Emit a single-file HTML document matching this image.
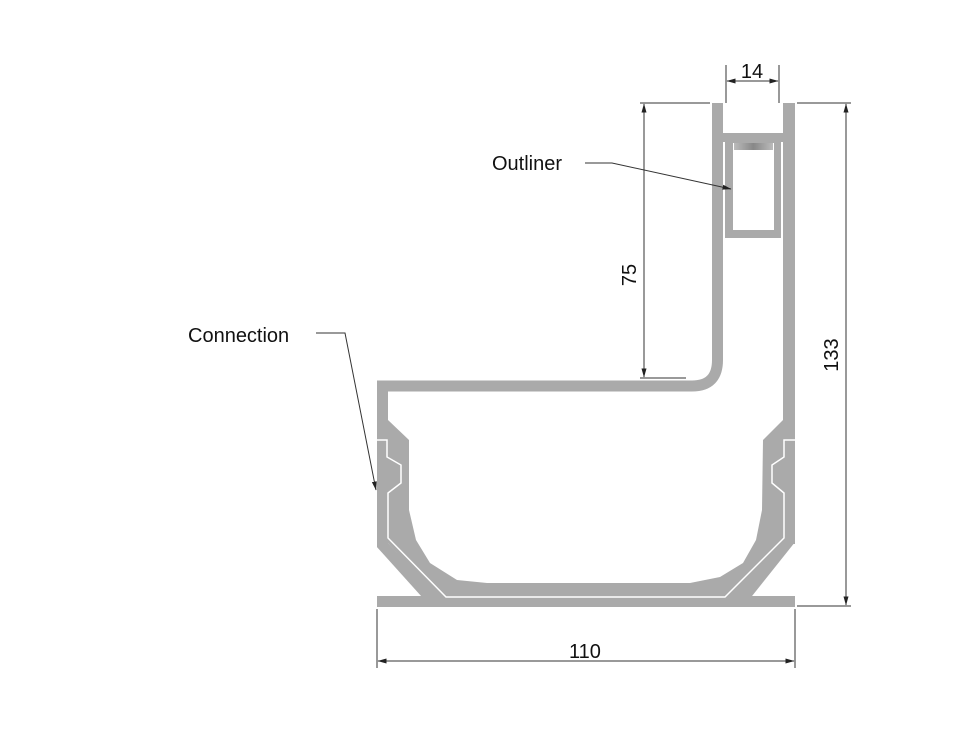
<!DOCTYPE html>
<html><head><meta charset="utf-8"><style>
html,body{margin:0;padding:0;background:#fff;}
svg{display:block;}
text{font-family:"Liberation Sans",sans-serif;fill:#111;}
</style></head><body>
<svg width="956" height="742" viewBox="0 0 956 742" xmlns="http://www.w3.org/2000/svg">
<defs>
<marker id="ar" markerWidth="9" markerHeight="5" refX="8.5" refY="2.5" orient="auto-start-reverse" markerUnits="userSpaceOnUse">
<path d="M0,0 L9,2.5 L0,5 Z" fill="#222"/></marker>
<linearGradient id="g" x1="0" x2="1" y1="0" y2="0">
<stop offset="0" stop-color="#bbb"/><stop offset="0.5" stop-color="#888"/><stop offset="1" stop-color="#bbb"/></linearGradient>
</defs>
<g fill="#aaaaaa" stroke="none">
<polygon points="388,392 783,392 783,543 740,597 435,597 388,543"/>
<rect x="377" y="596" width="418" height="11"/>
<rect x="783" y="103" width="12" height="441"/>
<rect x="712" y="133" width="83" height="9"/>
<rect x="725" y="142" width="56" height="96"/>
</g>
<path d="M717.5,103 V360 Q717.5,386 692,386 H382.5 V545 L432,600" fill="none" stroke="#aaaaaa" stroke-width="11" stroke-linejoin="miter"/>
<path d="M789,540 L742,599" fill="none" stroke="#aaaaaa" stroke-width="12"/>
<path d="M388,392 V420 L409,440 V510 L416,540 L430,563 L457,580 L487,583 H690 L720,577 L743,563 L756,540 L762,510 L763,440 L783,420 V392 Z" fill="#fff"/>
<rect x="733" y="143" width="41" height="87" fill="#fff"/>
<rect x="734" y="143" width="39" height="7" fill="url(#g)"/>
<path d="M377,440 H387 V457 L401,465 V483 L388,493 V538 L446,597 H725 L784,538 V493 L772,483 V465 L784,457 V440 H795" fill="none" stroke="#fff" stroke-width="1.5"/>
<g stroke="#333" stroke-width="1" fill="none">
<line x1="726" y1="65" x2="726" y2="103"/>
<line x1="779" y1="65" x2="779" y2="103"/>
<line x1="727" y1="81" x2="778" y2="81" marker-start="url(#ar)" marker-end="url(#ar)"/>
<line x1="640" y1="103" x2="710" y2="103"/>
<line x1="640" y1="378" x2="686" y2="378"/>
<line x1="644" y1="104" x2="644" y2="377" marker-start="url(#ar)" marker-end="url(#ar)"/>
<line x1="797" y1="103" x2="851" y2="103"/>
<line x1="797" y1="606" x2="851" y2="606"/>
<line x1="846" y1="104" x2="846" y2="605" marker-start="url(#ar)" marker-end="url(#ar)"/>
<line x1="377" y1="609" x2="377" y2="668"/>
<line x1="795" y1="609" x2="795" y2="668"/>
<line x1="378" y1="661" x2="794" y2="661" marker-start="url(#ar)" marker-end="url(#ar)"/>
<polyline points="585,163 612,163 731,189" marker-end="url(#ar)"/>
<polyline points="316,333 345,333 376,490" marker-end="url(#ar)"/>
</g>
<text x="752" y="78" font-size="20" text-anchor="middle">14</text>
<text x="585" y="658" font-size="20" text-anchor="middle">110</text>
<text transform="translate(636,275) rotate(-90)" font-size="20" text-anchor="middle">75</text>
<text transform="translate(846,355) rotate(-90)" font-size="20" text-anchor="middle" dy="-8">133</text>
<text x="492" y="170" font-size="20">Outliner</text>
<text x="188" y="342" font-size="20">Connection</text>
</svg>
</body></html>
